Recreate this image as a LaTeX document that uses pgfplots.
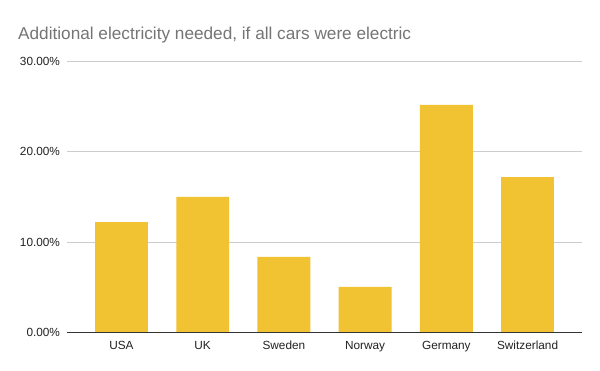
\documentclass[border=0pt]{standalone}
\usepackage{pgfplots}
\pgfplotsset{compat=1.18}
\usepackage{fontspec}
\setmainfont{Liberation Sans}
\definecolor{baryellow}{HTML}{F1C232}
\definecolor{gridgray}{HTML}{CCCCCC}
\definecolor{axisdark}{HTML}{333333}
\definecolor{titlegray}{HTML}{757575}
\definecolor{ticktext}{HTML}{222222}
\begin{document}
\begin{tikzpicture}
\path[use as bounding box, fill=white] (0,0) rectangle (600bp,371bp);
\node[anchor=base west, font=\fontsize{17.2bp}{20bp}\selectfont, text=titlegray, inner sep=0pt] at (18bp,331bp) {Additional electricity needed, if all cars were electric};
\begin{axis}[
  at={(67bp,38.7bp)}, anchor=south west,
  scale only axis, width=515bp, height=270.8bp,
  xmin=-0.67, xmax=5.67, ymin=0, ymax=30,
  ybar, bar width=0.65,
  xtick={0,1,2,3,4,5},
  xticklabels={USA,UK,Sweden,Norway,Germany,Switzerland},
  ytick={0,10,20,30},
  yticklabels={0.00\%,10.00\%,20.00\%,30.00\%},
  ymajorgrids, grid style={gridgray, line width=0.8bp},
  axis line style={draw=none},
  axis x line*=bottom, axis y line*=left,
  tick style={draw=none},
  ticklabel style={font=\fontsize{11.8bp}{13bp}\selectfont, text=ticktext},
  xticklabel style={yshift=-1bp},
  yticklabel style={xshift=-3.5bp},
  clip=false,
]
\addplot[fill=baryellow, draw=none] coordinates {(0,12.2) (1,15.0) (2,8.35) (3,5.02) (4,25.2) (5,17.18)};
\draw[axisdark, line width=1bp] (axis cs:-0.67,0) -- (axis cs:5.67,0);
\end{axis}
\end{tikzpicture}
\end{document}
